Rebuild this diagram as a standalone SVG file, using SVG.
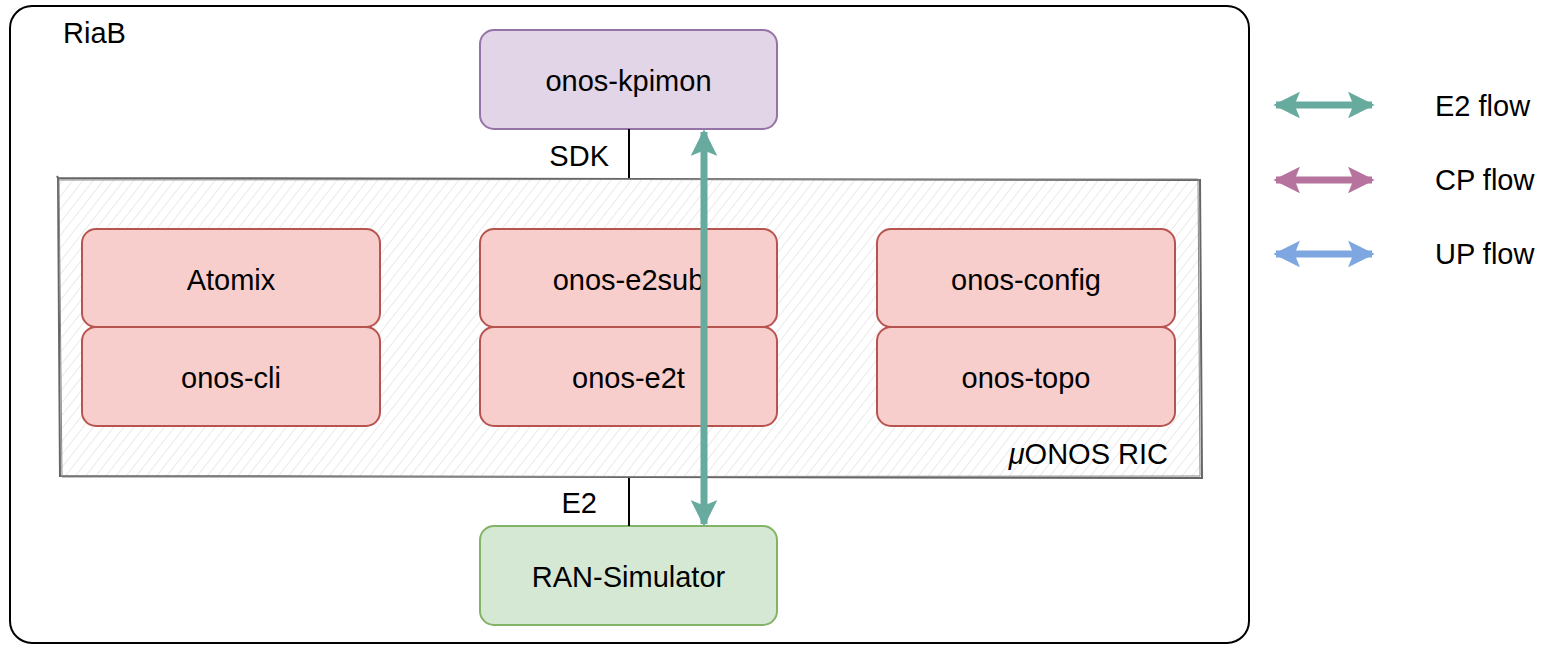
<svg xmlns="http://www.w3.org/2000/svg" width="1543" height="648" viewBox="0 0 1543 648">
<defs>
<style>
text{font-family:"Liberation Sans",Arial,sans-serif;font-size:29px;fill:#000;}
.c{text-anchor:middle;}
.red{fill:#f8cecc;stroke:#b85450;stroke-width:2;}
.tie{stroke:#000;stroke-width:2;}
</style>
<pattern id="hatch" width="8" height="8" patternUnits="userSpaceOnUse" patternTransform="rotate(38)">
<line x1="0" y1="0" x2="0" y2="8" stroke="#dcdcdc" stroke-width="1.2"/>
</pattern>
<marker id="ag" viewBox="0 0 10 10" refX="9" refY="5" markerWidth="3.8" markerHeight="3.8" orient="auto-start-reverse" markerUnits="strokeWidth">
<path d="M0,0 L10,5 L0,10 L2,5 Z" fill="#67ab9f"/>
</marker>
<marker id="ap" viewBox="0 0 10 10" refX="9" refY="5" markerWidth="3.8" markerHeight="3.8" orient="auto-start-reverse" markerUnits="strokeWidth">
<path d="M0,0 L10,5 L0,10 L2,5 Z" fill="#b5739d"/>
</marker>
<marker id="ab" viewBox="0 0 10 10" refX="9" refY="5" markerWidth="3.8" markerHeight="3.8" orient="auto-start-reverse" markerUnits="strokeWidth">
<path d="M0,0 L10,5 L0,10 L2,5 Z" fill="#7ea6e0"/>
</marker>
</defs>
<rect width="1543" height="648" fill="#fff"/>
<g id="riab">
<rect x="10" y="6" width="1239" height="637" rx="22" fill="#fff" stroke="#000" stroke-width="2"/>
<text x="63" y="43">RiaB</text>
</g>
<g id="ric">
<path d="M58,178 L1200,180 L1202,478 L60,476 Z" fill="url(#hatch)"/>
<path d="M57,176 L58,178 L1200,180 L1202,478 L60,476 L58,178" fill="none" stroke="#666" stroke-width="2"/>
<path d="M59,180 L1198,179 L1200,476 L62,477 Z" fill="none" stroke="#888" stroke-width="1"/>
<text x="1168" y="464" text-anchor="end"><tspan font-style="italic">μ</tspan>ONOS RIC</text>
</g>
<g id="kpimon">
<rect x="480" y="30" width="297" height="99" rx="14" fill="#e1d5e7" stroke="#9673a6" stroke-width="2"/>
<text class="c" x="628.5" y="91">onos-kpimon</text>
</g>
<g id="atomix"><rect class="red" x="82" y="229" width="298" height="98" rx="14"/><text class="c" x="231" y="290">Atomix</text></g>
<g id="onos-cli"><rect class="red" x="82" y="327" width="298" height="99" rx="14"/><text class="c" x="231" y="388">onos-cli</text></g>
<g id="onos-e2sub"><rect class="red" x="480" y="229" width="297" height="98" rx="14"/><text class="c" x="628.5" y="290">onos-e2sub</text></g>
<g id="onos-e2t"><rect class="red" x="480" y="327" width="297" height="99" rx="14"/><text class="c" x="628.5" y="388">onos-e2t</text></g>
<g id="onos-config"><rect class="red" x="877" y="229" width="298" height="98" rx="14"/><text class="c" x="1026" y="290">onos-config</text></g>
<g id="onos-topo"><rect class="red" x="877" y="327" width="298" height="99" rx="14"/><text class="c" x="1026" y="388">onos-topo</text></g>
<g id="ransim">
<rect x="480" y="526" width="297" height="99" rx="14" fill="#d5e8d4" stroke="#82b366" stroke-width="2"/>
<text class="c" x="628.5" y="587">RAN-Simulator</text>
</g>
<g id="connectors">
<line class="tie" x1="629" y1="129" x2="629" y2="178"/>
<text x="609" y="166" text-anchor="end">SDK</text>
<line class="tie" x1="629" y1="478" x2="629" y2="526"/>
<text x="597" y="513" text-anchor="end">E2</text>
<line x1="704" y1="132" x2="704" y2="524" stroke="#67ab9f" stroke-width="7" marker-start="url(#ag)" marker-end="url(#ag)"/>
</g>
<g id="legend">
<line x1="1276" y1="105" x2="1372" y2="105" stroke="#67ab9f" stroke-width="7" marker-start="url(#ag)" marker-end="url(#ag)"/>
<text x="1435" y="116">E2 flow</text>
<line x1="1276" y1="180" x2="1372" y2="180" stroke="#b5739d" stroke-width="7" marker-start="url(#ap)" marker-end="url(#ap)"/>
<text x="1435" y="190">CP flow</text>
<line x1="1276" y1="254" x2="1372" y2="254" stroke="#7ea6e0" stroke-width="7" marker-start="url(#ab)" marker-end="url(#ab)"/>
<text x="1435" y="264">UP flow</text>
</g>
</svg>
